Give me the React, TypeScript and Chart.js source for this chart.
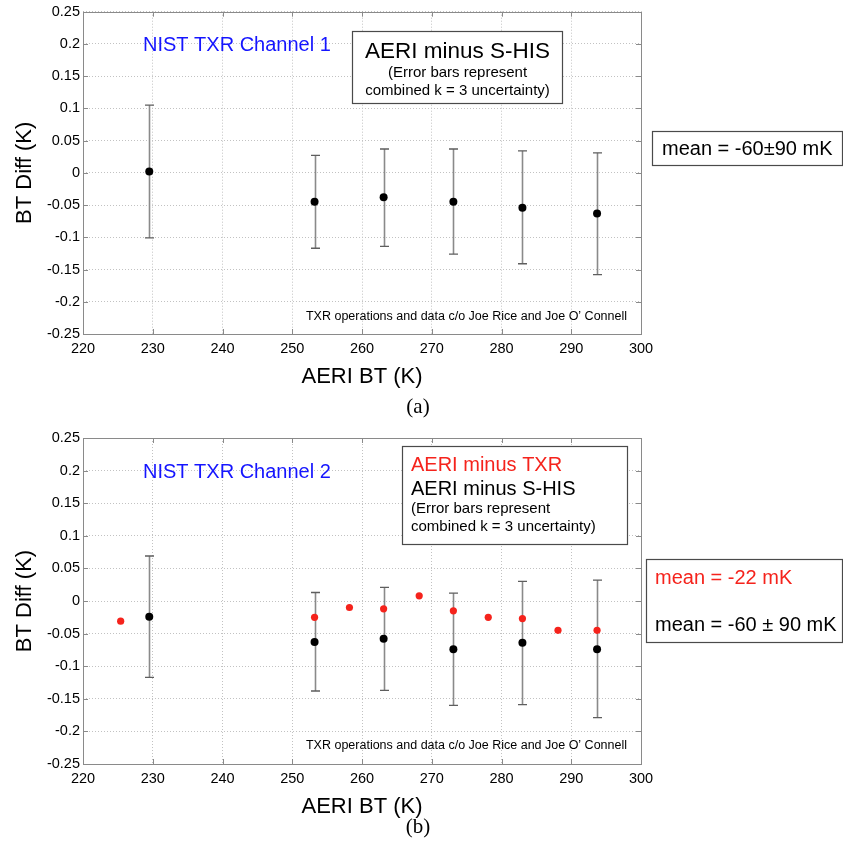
import React, { useEffect, useRef } from "react";
import { Chart, registerables } from "chart.js";

Chart.register(...registerables);

const FONT = '"Liberation Sans", Arial, Helvetica, sans-serif';
const SERIF = '"Liberation Serif", "Times New Roman", Times, serif';

// ---- axes ----
const xTickValues = [220, 230, 240, 250, 260, 270, 280, 290, 300];
const xTickLabels = ["220", "230", "240", "250", "260", "270", "280", "290", "300"];
const yTickValues = [-0.25, -0.2, -0.15, -0.1, -0.05, 0, 0.05, 0.1, 0.15, 0.2, 0.25];
const yTickLabels = ["-0.25", "-0.2", "-0.15", "-0.1", "-0.05", "0", "0.05", "0.1", "0.15", "0.2", "0.25"];

// ---- panel (a): AERI minus S-HIS, channel 1 ----
const shisXA = [229.5, 253.2, 263.1, 273.1, 283.0, 293.7];
const shisYA = [0.002, -0.045, -0.038, -0.045, -0.054, -0.063];
const shisHiA = [0.105, 0.027, 0.037, 0.037, 0.034, 0.031];
const shisLoA = [-0.101, -0.117, -0.114, -0.126, -0.141, -0.158];

// ---- panel (b): channel 2 ----
const shisXB = [229.5, 253.2, 263.1, 273.1, 283.0, 293.7];
const shisYB = [-0.024, -0.063, -0.058, -0.074, -0.064, -0.074];
const shisHiB = [0.069, 0.013, 0.021, 0.012, 0.030, 0.032];
const shisLoB = [-0.117, -0.138, -0.137, -0.160, -0.159, -0.179];

const txrXB = [225.4, 253.2, 258.2, 263.1, 268.2, 273.1, 278.1, 283.0, 288.1, 293.7];
const txrYB = [-0.031, -0.025, -0.010, -0.012, 0.008, -0.015, -0.025, -0.027, -0.045, -0.045];

const BLUE = "#1515ff";
const RED = "#f5231c";

type ErrSet = { xs: number[]; lo: number[]; hi: number[] };

function drawText(
  ctx: CanvasRenderingContext2D,
  str: string,
  x: number,
  y: number,
  size: number,
  color: string,
  align: CanvasTextAlign = "left",
  family: string = FONT
) {
  ctx.save();
  ctx.font = `${size}px ${family}`;
  ctx.fillStyle = color;
  ctx.textAlign = align;
  ctx.textBaseline = "middle";
  ctx.fillText(str, x, y);
  ctx.restore();
}

function drawBox(ctx: CanvasRenderingContext2D, x1: number, y1: number, x2: number, y2: number) {
  ctx.save();
  ctx.fillStyle = "#ffffff";
  ctx.fillRect(x1, y1, x2 - x1, y2 - y1);
  ctx.strokeStyle = "#4a4a4a";
  ctx.lineWidth = 1.2;
  ctx.strokeRect(x1 + 0.5, y1 + 0.5, x2 - x1, y2 - y1);
  ctx.restore();
}

function makePlugin(errs: ErrSet[], annotate: (ctx: CanvasRenderingContext2D, chart: any) => void) {
  return {
    id: "customDecor",
    beforeDatasetsDraw(chart: any) {
      const ctx: CanvasRenderingContext2D = chart.ctx;
      const xs = chart.scales.x;
      const ys = chart.scales.y;
      ctx.save();
      errs.forEach((e) => {
        e.xs.forEach((xv, i) => {
          const px = Math.round(xs.getPixelForValue(xv)) + 0.5;
          const pt = ys.getPixelForValue(e.hi[i]);
          const pb = ys.getPixelForValue(e.lo[i]);
          ctx.strokeStyle = "#8a8a8a";
          ctx.lineWidth = 1.6;
          ctx.beginPath();
          ctx.moveTo(px, pt);
          ctx.lineTo(px, pb);
          ctx.stroke();
          ctx.strokeStyle = "#5e5e5e";
          ctx.lineWidth = 1.3;
          ctx.beginPath();
          ctx.moveTo(px - 4.5, pt);
          ctx.lineTo(px + 4.5, pt);
          ctx.moveTo(px - 4.5, pb);
          ctx.lineTo(px + 4.5, pb);
          ctx.stroke();
        });
      });
      ctx.restore();
    },
    afterDraw(chart: any) {
      const ctx: CanvasRenderingContext2D = chart.ctx;
      const { left, right, top, bottom } = chart.chartArea;
      const xs = chart.scales.x;
      const ys = chart.scales.y;
      ctx.save();
      ctx.strokeStyle = "#8a8a8a";
      ctx.lineWidth = 1;
      // inward tick marks
      ctx.beginPath();
      xTickValues.forEach((v) => {
        const px = Math.round(xs.getPixelForValue(v)) + 0.5;
        ctx.moveTo(px, bottom);
        ctx.lineTo(px, bottom - 5);
        ctx.moveTo(px, top);
        ctx.lineTo(px, top + 5);
      });
      yTickValues.forEach((v) => {
        const py = Math.round(ys.getPixelForValue(v)) + 0.5;
        ctx.moveTo(left, py);
        ctx.lineTo(left + 5, py);
        ctx.moveTo(right, py);
        ctx.lineTo(right - 5, py);
      });
      ctx.stroke();
      // frame
      ctx.strokeRect(Math.round(left) + 0.5, Math.round(top) + 0.5, Math.round(right - left), Math.round(bottom - top));
      ctx.restore();
      annotate(ctx, chart);
    },
  };
}

function Panel(props: {
  height: number;
  padTop: number;
  padBottom: number;
  datasets: any[];
  errs: ErrSet[];
  annotate: (ctx: CanvasRenderingContext2D, chart: any) => void;
}) {
  const ref = useRef<HTMLCanvasElement | null>(null);
  useEffect(() => {
    if (!ref.current) return;
    const chart = new Chart(ref.current, {
      type: "scatter",
      data: { datasets: props.datasets },
      options: {
        responsive: false,
        animation: false,
        events: [],
        layout: { padding: { left: 0, right: 202, top: props.padTop, bottom: props.padBottom } },
        plugins: { legend: { display: false }, tooltip: { enabled: false }, title: { display: false } },
        scales: {
          x: {
            type: "linear",
            min: 220,
            max: 300,
            afterFit: (s: any) => {
              s.height = 60;
            },
            afterBuildTicks: (s: any) => {
              s.ticks = xTickValues.map((v) => ({ value: v }));
            },
            ticks: {
              callback: (_v: any, i: number) => xTickLabels[i],
              font: { family: FONT, size: 14.5 },
              color: "#000",
              padding: 6,
              maxRotation: 0,
              autoSkip: false,
            },
            grid: { color: "#c2c2c2", lineWidth: 1, drawTicks: false },
            border: { display: false, dash: [1, 2] },
            title: {
              display: true,
              text: "AERI BT (K)",
              font: { family: FONT, size: 22, lineHeight: 1 },
              color: "#000",
              padding: { top: 0, bottom: 6 },
            },
          },
          y: {
            type: "linear",
            min: -0.25,
            max: 0.25,
            afterFit: (s: any) => {
              s.width = 83;
            },
            afterBuildTicks: (s: any) => {
              s.ticks = yTickValues.map((v) => ({ value: v }));
            },
            ticks: {
              callback: (_v: any, i: number) => yTickLabels[i],
              font: { family: FONT, size: 14.5 },
              color: "#000",
              padding: 3,
              autoSkip: false,
            },
            grid: { color: "#c2c2c2", lineWidth: 1, drawTicks: false },
            border: { display: false, dash: [1, 2] },
            title: {
              display: true,
              text: "BT Diff (K)",
              font: { family: FONT, size: 22, lineHeight: 1 },
              color: "#000",
              padding: { top: 14, bottom: 0 },
            },
          },
        },
      },
      plugins: [makePlugin(props.errs, props.annotate)],
    } as any);
    return () => chart.destroy();
  }, []);
  return <canvas ref={ref} width={843} height={props.height} style={{ display: "block" }} />;
}

const toPts = (xs: number[], ys: number[]) => xs.map((x, i) => ({ x, y: ys[i] }));

const noteText = "TXR operations and data c/o Joe Rice and Joe O\u2019 Connell";

export default function App() {
  useEffect(() => {
    document.body.style.margin = "0";
  }, []);

  const datasetsA = [
    {
      label: "AERI minus S-HIS",
      data: toPts(shisXA, shisYA),
      pointRadius: 4,
      pointBackgroundColor: "#000",
      pointBorderWidth: 0,
      showLine: false,
    },
  ];
  const datasetsB = [
    {
      label: "AERI minus TXR",
      data: toPts(txrXB, txrYB),
      pointRadius: 3.6,
      pointBackgroundColor: RED,
      pointBorderWidth: 0,
      showLine: false,
    },
    {
      label: "AERI minus S-HIS",
      data: toPts(shisXB, shisYB),
      pointRadius: 4,
      pointBackgroundColor: "#000",
      pointBorderWidth: 0,
      showLine: false,
    },
  ];

  const annotateA = (ctx: CanvasRenderingContext2D) => {
    drawText(ctx, "NIST TXR Channel 1", 143, 45, 20, BLUE);
    drawBox(ctx, 352, 31, 562, 103);
    drawText(ctx, "AERI minus S-HIS", 457.5, 52, 22.5, "#000", "center");
    drawText(ctx, "(Error bars represent", 457.5, 73, 15, "#000", "center");
    drawText(ctx, "combined k = 3 uncertainty)", 457.5, 91, 15, "#000", "center");
    drawText(ctx, noteText, 627, 317, 12.5, "#000", "right");
    drawBox(ctx, 652, 131, 842, 165);
    drawText(ctx, "mean = -60\u00b190 mK", 662, 149, 20, "#000");
    drawText(ctx, "(a)", 418, 407, 21, "#000", "center", SERIF);
  };

  const annotateB = (ctx: CanvasRenderingContext2D) => {
    drawText(ctx, "NIST TXR Channel 2", 143, 52, 20, BLUE);
    drawBox(ctx, 402, 26, 627, 124);
    drawText(ctx, "AERI minus TXR", 411, 45, 20, RED);
    drawText(ctx, "AERI minus S-HIS", 411, 69, 20, "#000");
    drawText(ctx, "(Error bars represent", 411, 89, 15, "#000");
    drawText(ctx, "combined k = 3 uncertainty)", 411, 107, 15, "#000");
    drawText(ctx, noteText, 627, 326, 12.5, "#000", "right");
    drawBox(ctx, 646, 139, 842, 222);
    drawText(ctx, "mean = -22 mK", 655, 158, 20, RED);
    drawText(ctx, "mean = -60 \u00b1 90 mK", 655, 205, 20, "#000");
    drawText(ctx, "(b)", 418, 407, 21, "#000", "center", SERIF);
  };

  return (
    <div style={{ width: 843, height: 847, background: "#fff", position: "relative" }}>
      <Panel height={420} padTop={11} padBottom={26} datasets={datasetsA} errs={[{ xs: shisXA, lo: shisLoA, hi: shisHiA }]} annotate={annotateA} />
      <Panel height={427} padTop={18} padBottom={23} datasets={datasetsB} errs={[{ xs: shisXB, lo: shisLoB, hi: shisHiB }]} annotate={annotateB} />
    </div>
  );
}
